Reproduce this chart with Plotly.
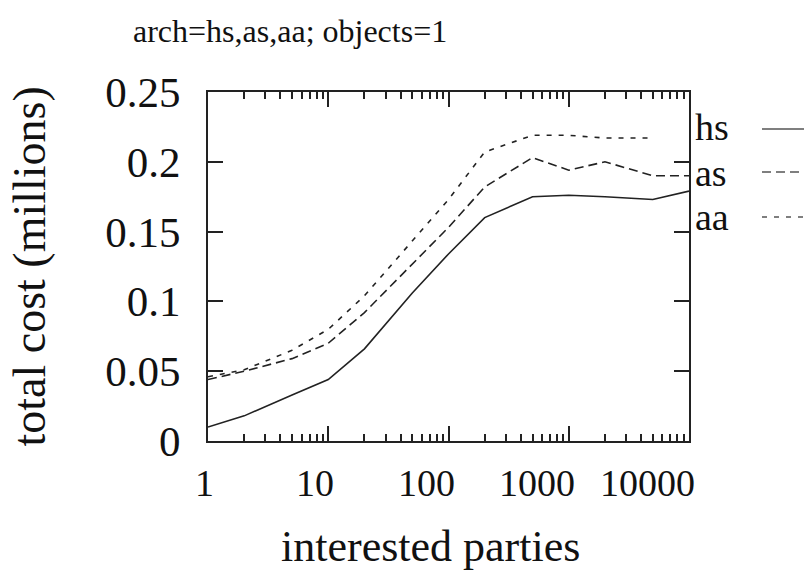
import math
import plotly.graph_objects as go

# ---- data ----
parties = [1, 2, 5, 10, 20, 50, 100, 200, 500, 1000, 2000, 5000, 10000]
hs_cost = [0.010, 0.018, 0.033, 0.044, 0.066, 0.106, 0.134, 0.160, 0.175, 0.176, 0.175, 0.173, 0.179]
as_cost = [0.044, 0.050, 0.059, 0.070, 0.092, 0.127, 0.153, 0.182, 0.203, 0.194, 0.200, 0.190, 0.190]
aa_parties = [1, 2, 5, 10, 20, 50, 100, 200, 500, 1000, 2000, 5000]
aa_cost = [0.046, 0.051, 0.065, 0.080, 0.104, 0.143, 0.173, 0.207, 0.219, 0.219, 0.217, 0.217]

series_names = ["hs", "as", "aa"]
x_tick_vals = [1, 10, 100, 1000, 10000]
x_tick_labels = ["1", "10", "100", "1000", "10000"]
x_minor_vals = [m * 10 ** k for k in range(4) for m in range(2, 10)]
y_tick_vals = [0, 0.05, 0.1, 0.15, 0.2, 0.25]
y_tick_labels = ["0", "0.05", "0.1", "0.15", "0.2", "0.25"]

title_text = "arch=hs,as,aa; objects=1"
x_title = "interested parties"
y_title = "total cost (millions)"

FONT = "Liberation Serif"
INK = "#222222"
dashes = ["solid", "9px,5px", "5px,7px"]

fig = go.Figure()
xs = [parties, parties, aa_parties]
ys = [hs_cost, as_cost, aa_cost]
for name, x, y, d in zip(series_names, xs, ys, dashes):
    fig.add_trace(go.Scatter(x=x, y=y, mode="lines", name=name,
                             line=dict(color=INK, width=1.6, dash=d),
                             showlegend=False))

fig.update_layout(
    width=804, height=575,
    margin=dict(l=208, r=115, t=92, b=134),
    paper_bgcolor="white", plot_bgcolor="white",
    font=dict(family=FONT, color="#111111"),
    xaxis=dict(type="log", range=[0, 4], showgrid=False, zeroline=False,
               showline=True, linecolor=INK, linewidth=2, mirror="allticks",
               ticks="inside", ticklen=15, tickwidth=2, tickcolor=INK,
               tickvals=x_tick_vals, showticklabels=False,
               minor=dict(tickvals=x_minor_vals, ticks="inside", ticklen=7,
                          tickwidth=1.5, tickcolor=INK, showgrid=False)),
    yaxis=dict(range=[0, 0.25], showgrid=False, zeroline=False,
               showline=True, linecolor=INK, linewidth=2, mirror="allticks",
               ticks="inside", ticklen=15, tickwidth=2, tickcolor=INK,
               tickvals=y_tick_vals, ticktext=y_tick_labels,
               tickfont=dict(size=43, family=FONT), ticklabelstandoff=17),
)

ann = []
# x tick labels (right-aligned next to their ticks, as in the reference)
for v, t in zip(x_tick_vals, x_tick_labels):
    ann.append(dict(x=math.log10(v), y=0, xref="x", yref="paper", text=t,
                    showarrow=False, xanchor="right", yanchor="top",
                    xshift=8, yshift=-19, font=dict(size=38, family=FONT)))
# titles
ann.append(dict(x=(290 - 208) / 481, y=(441 - 31) / 349, xref="paper", yref="paper",
                text=title_text, showarrow=False, xanchor="center", yanchor="middle",
                font=dict(size=32, family=FONT)))
ann.append(dict(x=(430 - 208) / 481, y=(441 - 546) / 349, xref="paper", yref="paper",
                text=x_title, showarrow=False, xanchor="center", yanchor="middle",
                font=dict(size=44, family=FONT)))
ann.append(dict(x=(29 - 208) / 481, y=0.5, xref="paper", yref="paper",
                text=y_title, showarrow=False, xanchor="center", yanchor="middle",
                textangle=-90, font=dict(size=46, family=FONT)))

# custom legend: label on the left, line sample on the right
leg_text_y = [127, 173, 217]
leg_line_y = [129, 172, 217]
shapes = []
for name, ty, ly, d in zip(series_names, leg_text_y, leg_line_y, dashes):
    ann.append(dict(x=(693 - 208) / 481, y=(441 - ty) / 349, xref="paper", yref="paper",
                    text=name, showarrow=False, xanchor="left", yanchor="middle",
                    font=dict(size=38, family=FONT)))
    shapes.append(dict(type="line", xref="paper", yref="paper",
                       x0=(762 - 208) / 481, x1=(812 - 208) / 481,
                       y0=(441 - ly) / 349, y1=(441 - ly) / 349,
                       line=dict(color="#555555", width=1.6, dash=d)))

fig.update_layout(annotations=ann, shapes=shapes)
fig.write_html("out.html", config={"displayModeBar": False},
               post_script="document.body.style.margin='0';document.body.style.padding='0';")
